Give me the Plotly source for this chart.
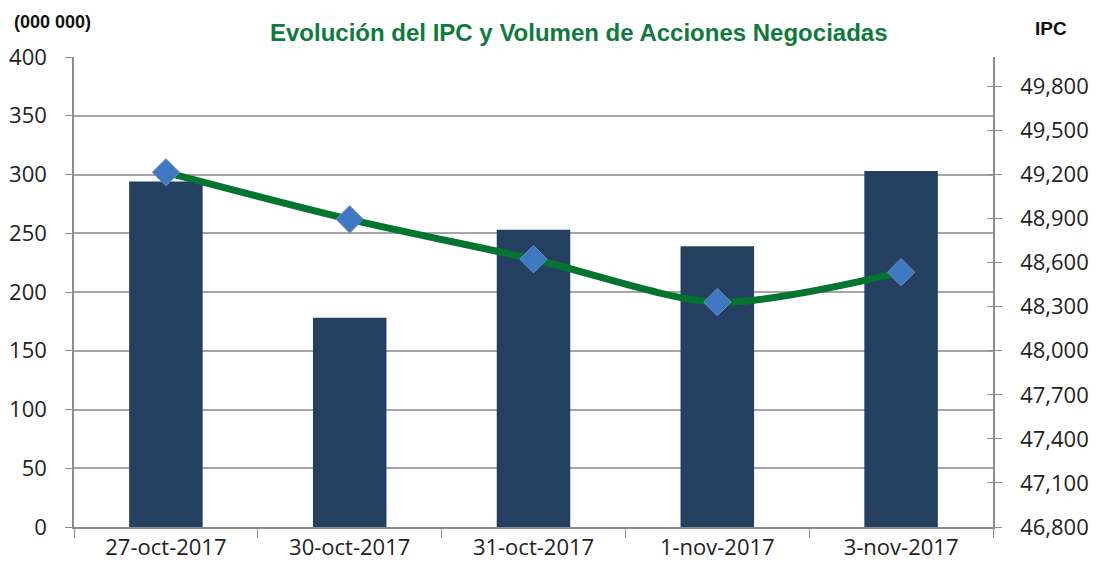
import plotly.graph_objects as go

fechas = ["27-oct-2017", "30-oct-2017", "31-oct-2017", "1-nov-2017", "3-nov-2017"]
volumen = [294, 178, 253, 239, 303]
ipc = [49215, 48895, 48623, 48331, 48535]

left_ticks = [0, 50, 100, 150, 200, 250, 300, 350, 400]
right_ticks = [46800, 47100, 47400, 47700, 48000, 48300, 48600, 48900, 49200, 49500, 49800]

FONT = "Liberation Sans"
TICKFONT = "Open Sans"
fig = go.Figure()
fig.add_trace(go.Bar(x=fechas, y=volumen, marker=dict(color="#243f60", line=dict(width=0)),
                     width=0.4, yaxis="y", name="Volumen"))
fig.add_trace(go.Scatter(x=fechas, y=ipc, yaxis="y2", mode="lines+markers", name="IPC",
                         line=dict(color="#047530", width=7, shape="spline", smoothing=0.8),
                         marker=dict(symbol="diamond", size=21, color="#3f78c0",
                                     line=dict(color="#5f92d0", width=1))))
fig.add_trace(go.Scatter(x=[fechas[0]], y=[None], yaxis="y3", showlegend=False, hoverinfo="skip"))

fig.update_layout(
    width=1091, height=563,
    margin=dict(l=66, r=106, t=49, b=44, autoexpand=False),
    paper_bgcolor="white", plot_bgcolor="white",
    showlegend=False, bargap=0.6,
    font=dict(family=TICKFONT, size=22, color="#222222"),
    xaxis=dict(type="category", showline=True, linecolor="#8c8c8c", linewidth=1.5,
               ticks="outside", tickson="boundaries", ticklen=9, tickcolor="#8c8c8c",
               tickfont=dict(family=TICKFONT, size=22), showgrid=False, automargin=False),
    yaxis=dict(range=[0, 400], tickvals=left_ticks, showline=True, linecolor="#8c8c8c",
               linewidth=1.5, ticks="outside", ticklen=7, tickcolor="#8c8c8c",
               gridcolor="#a6a6a6", gridwidth=1.5, zeroline=False, automargin=False,
               tickfont=dict(family=TICKFONT, size=22), ticklabelstandoff=14),
    yaxis2=dict(range=[46800, 50000], tickvals=right_ticks, overlaying="y", side="right",
                showline=True, linecolor="#8c8c8c", linewidth=1.5, ticks="outside",
                ticklen=7, tickcolor="#8c8c8c", showgrid=False, zeroline=False,
                automargin=False, tickformat=",d",
                tickfont=dict(family=TICKFONT, size=22), ticklabelstandoff=14),
    yaxis3=dict(range=[46800, 50000], tickvals=right_ticks, overlaying="y", side="right",
                showline=False, ticks="inside", ticklen=6, tickcolor="#8c8c8c",
                showticklabels=False, showgrid=False, zeroline=False, automargin=False),
)

fig.add_annotation(text="<b>Evolución del IPC y Volumen de Acciones Negociadas</b>",
                   xref="paper", yref="paper", x=0.5495, y=1.0, yshift=25,
                   xanchor="center", yanchor="middle", showarrow=False,
                   font=dict(family=FONT, size=24, color="#0f7a3c"))
fig.add_annotation(text="<b>(000 000)</b>", xref="paper", yref="paper",
                   x=-0.068, y=1.0, yshift=35, xanchor="left", yanchor="middle", showarrow=False,
                   font=dict(family=FONT, size=18, color="#111111"))
fig.add_annotation(text="<b>IPC</b>", xref="paper", yref="paper",
                   x=1.044, y=1.0, yshift=29, xanchor="left", yanchor="middle", showarrow=False,
                   font=dict(family=FONT, size=19, color="#111111"))

fig.write_html("out.html")
